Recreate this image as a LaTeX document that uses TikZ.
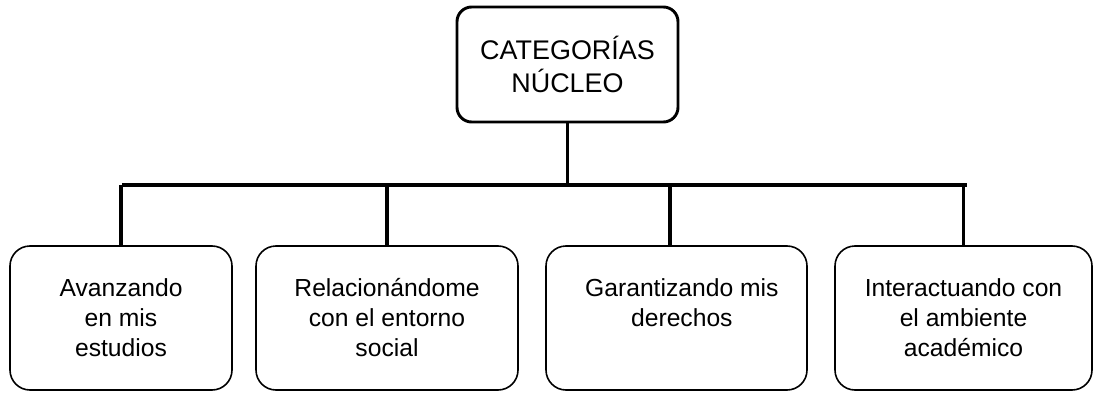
\documentclass[tikz,border=0pt]{standalone}
\usepackage{fontspec}
\setmainfont{Liberation Sans}
\usetikzlibrary{positioning,calc}

\begin{document}
\begin{tikzpicture}[x=0.75pt, y=-0.75pt,
    core/.style={draw, line width=2.2pt, rounded corners=11pt, minimum width=165.75pt, minimum height=86.25pt, align=center, inner sep=0pt, font=\fontsize{20.2}{24.75}\selectfont},
    leaf/.style={draw, line width=1.2pt, rounded corners=15pt, minimum height=108pt, inner sep=0pt},
    leaftext/.style={align=center, inner sep=0pt, anchor=north, font=\fontsize{18.5}{22.5}\selectfont, execute at begin node=\strut},
    link/.style={line width=2.8pt}]
    \useasboundingbox (0,0) rectangle (1094,392);

    % Core category
    \node[core] (core) at (567.5,64.5) {CATEGORÍAS\\NÚCLEO};

    % Subcategories
    \node[leaf, minimum width=166.5pt] (s1) at (121,318) {};
    \node[leaf, minimum width=196.5pt] (s2) at (387,318) {};
    \node[leaf, minimum width=195.75pt] (s3) at (676.5,318) {};
    \node[leaf, minimum width=192.75pt] (s4) at (963.5,318) {};

    \node[leaftext, below=25pt of s1.north] (t1) {Avanzando\\en mis\\estudios};
    \node[leaftext, below=25pt of s2.north] (t2) {Relacionándome\\con el entorno\\social};
    \node[leaftext, below=25pt of s3.north, xshift=4pt] (t3) {Garantizando mis\\derechos};
    \node[leaftext, below=25pt of s4.north] (t4) {Interactuando con\\el ambiente\\académico};

    % Connectors
    \coordinate (busL) at (124,185);
    \coordinate (busR) at (965,185);
    \draw[link] (core.south) -- (core.south |- busL);
    \draw[link] ([xshift=-1.4pt]busL) -- ([xshift=1.4pt]busR);
    \draw[link] (s1.north) -- (s1.north |- busL);
    \draw[link] (s2.north) -- (s2.north |- busL);
    \draw[link] ([xshift=-5pt]s3.north) -- ([xshift=-5pt]s3.north |- busL);
    \draw[link] (s4.north) -- (s4.north |- busL);
\end{tikzpicture}
\end{document}
